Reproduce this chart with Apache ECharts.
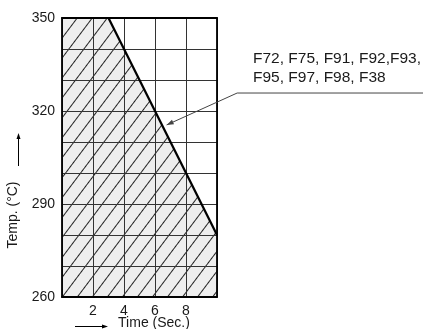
<!DOCTYPE html>
<html>
<head>
<meta charset="utf-8">
<script src="https://cdn.jsdelivr.net/npm/echarts@6/dist/echarts.min.js"></script>
<style>
html,body{margin:0;padding:0;background:#fff;}
#c{width:423px;height:329px;}
</style>
</head>
<body>
<div id="c"></div>
<script>
// ---- data ----
var areaTimes = [0, 3, 10];          // sec
var areaTemps = [350, 350, 280];     // °C
var boundaryTimes = [3, 10];
var boundaryTemps = [350, 280];
var xTickLabels = [2, 4, 6, 8];
var yTickLabels = [260, 290, 320, 350];
var calloutLines = ['F72, F75, F91, F92,F93,', 'F95, F97, F98, F38'];
var calloutTip = [6.75, 315.5];      // data coords where the arrow points
var calloutElbow = [11.3, 325.8];

var FONT = '"Liberation Sans", Arial, Helvetica, sans-serif';
var chart = echarts.init(document.getElementById('c'), null, {renderer: 'canvas'});

function zip(a, b) { return a.map(function (v, i) { return [v, b[i]]; }); }

var gridLine = {show: true, lineStyle: {color: '#333', width: 1}};
var option = {
  animation: false,
  backgroundColor: '#fff',
  grid: {left: 62, right: 206, top: 18, bottom: 32, containLabel: false},
  xAxis: [{
    type: 'value', min: 0, max: 10, interval: 2, z: 10,
    axisLine: {show: true, lineStyle: {color: '#000', width: 1.8}},
    axisTick: {show: false},
    splitLine: gridLine,
    axisLabel: {
      margin: 7, color: '#1a1a1a', fontSize: 14, fontFamily: FONT,
      formatter: function (v) { return xTickLabels.indexOf(v) >= 0 ? String(v) : ''; }
    }
  }, {
    type: 'value', min: 0, max: 10, position: 'top', z: 10,
    axisLine: {show: true, onZero: false, lineStyle: {color: '#000', width: 1.8}},
    axisTick: {show: false}, axisLabel: {show: false}, splitLine: {show: false}
  }],
  yAxis: [{
    type: 'value', min: 260, max: 350, interval: 10, z: 10,
    axisLine: {show: true, lineStyle: {color: '#000', width: 1.8}},
    axisTick: {show: false},
    splitLine: gridLine,
    axisLabel: {
      margin: 7, color: '#1a1a1a', fontSize: 14, fontFamily: FONT,
      formatter: function (v) { return yTickLabels.indexOf(v) >= 0 ? String(v) : ''; }
    }
  }, {
    type: 'value', min: 260, max: 350, position: 'right', z: 10,
    axisLine: {show: true, onZero: false, lineStyle: {color: '#000', width: 1.8}},
    axisTick: {show: false}, axisLabel: {show: false}, splitLine: {show: false}
  }],
  series: [{
    type: 'line',
    data: zip(areaTimes, areaTemps),
    symbol: 'none',
    lineStyle: {width: 0},
    areaStyle: {color: '#eeeeee', opacity: 1, origin: 'start'},
    itemStyle: {
      color: '#eeeeee',
      decal: {
        symbol: 'rect', symbolSize: 1,
        color: 'rgba(0,0,0,0.85)',
        dashArrayX: [1, 0], dashArrayY: [1, 11],
        rotation: -Math.PI * 53 / 180
      }
    },
    z: 2
  }, {
    type: 'line',
    data: zip(boundaryTimes, boundaryTemps),
    symbol: 'none',
    lineStyle: {color: '#000', width: 2.2},
    z: 20
  }]
};
chart.setOption(option);

function arrowHead(tip, from, len, half, color) {
  var dx = tip[0] - from[0], dy = tip[1] - from[1];
  var d = Math.sqrt(dx * dx + dy * dy); dx /= d; dy /= d;
  var bx = tip[0] - dx * len, by = tip[1] - dy * len;
  return {type: 'polygon', z: 100, silent: true,
    shape: {points: [tip, [bx - dy * half, by + dx * half], [bx + dy * half, by - dx * half]]},
    style: {fill: color}};
}

var tip = chart.convertToPixel({gridIndex: 0}, calloutTip);
var elbow = chart.convertToPixel({gridIndex: 0}, calloutElbow);
var W = chart.getWidth();
var arrowColor = '#444';
var graphics = [
  {type: 'polyline', z: 100, silent: true,
   shape: {points: [[W, elbow[1]], elbow, tip]},
   style: {stroke: arrowColor, lineWidth: 1, fill: null}},
  arrowHead(tip, elbow, 7, 2.5, arrowColor),
  {type: 'text', z: 100, left: 253, top: 49,
   style: {text: calloutLines.join('\n'), font: '15.5px ' + FONT, fill: '#1a1a1a', lineHeight: 19}},
  // x axis title + arrow
  {type: 'text', z: 100, x: 154, y: 323,
   style: {text: 'Time (Sec.)', font: '14px ' + FONT, fill: '#1a1a1a', align: 'center', verticalAlign: 'middle'}},
  {type: 'line', z: 100, shape: {x1: 75, y1: 326.5, x2: 103, y2: 326.5}, style: {stroke: '#000', lineWidth: 1}},
  arrowHead([108, 326.5], [75, 326.5], 6, 2, '#000'),
  // y axis title + arrow
  {type: 'text', z: 100, x: 13.5, y: 215, rotation: Math.PI / 2,
   style: {text: 'Temp. (°C)', font: '14px ' + FONT, fill: '#1a1a1a', align: 'center', verticalAlign: 'middle'}},
  {type: 'line', z: 100, shape: {x1: 18.5, y1: 166, x2: 18.5, y2: 138}, style: {stroke: '#000', lineWidth: 1}},
  arrowHead([18.5, 133], [18.5, 166], 6, 2, '#000')
];
chart.setOption({graphic: graphics});
</script>
</body>
</html>
